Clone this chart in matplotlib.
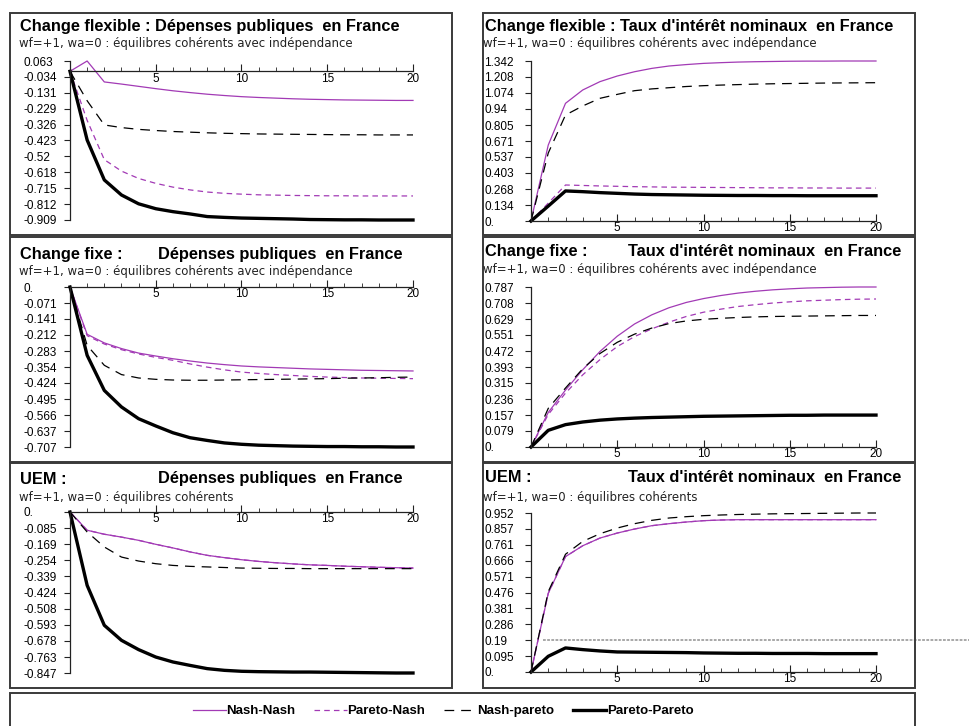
import matplotlib
matplotlib.use("Agg")
import matplotlib.pyplot as plt
from matplotlib.patches import Rectangle
from matplotlib.ticker import FixedLocator

plt.rcParams['font.family'] = ['Liberation Sans', 'DejaVu Sans']
plt.rcParams['lines.scale_dashes'] = False

# periodes
t = list(range(21))

# Change flexible : Depenses publiques
flex_dep_nn = [0, 0.063, -0.065, -0.078, -0.092, -0.106, -0.119, -0.130, -0.140, -0.148, -0.155,
               -0.160, -0.164, -0.168, -0.171, -0.173, -0.175, -0.176, -0.177, -0.178, -0.178]
flex_dep_pn = [0, -0.30, -0.54, -0.61, -0.655, -0.685, -0.708, -0.725, -0.738, -0.746, -0.751,
               -0.755, -0.757, -0.759, -0.760, -0.761, -0.761, -0.762, -0.762, -0.762, -0.762]
flex_dep_np = [0, -0.18, -0.328, -0.344, -0.355, -0.362, -0.368, -0.372, -0.376, -0.379, -0.381,
               -0.383, -0.384, -0.385, -0.386, -0.387, -0.388, -0.388, -0.389, -0.389, -0.389]
flex_dep_pp = [0, -0.42, -0.664, -0.756, -0.81, -0.84, -0.858, -0.872, -0.888, -0.893, -0.897,
               -0.899, -0.901, -0.903, -0.906, -0.907, -0.908, -0.908, -0.909, -0.909, -0.909]
flex_dep_ticks = ['0.063', '-0.034', '-0.131', '-0.229', '-0.326', '-0.423', '-0.52', '-0.618',
                  '-0.715', '-0.812', '-0.909']

# Change flexible : Taux d'interet nominaux
flex_taux_nn = [0, 0.637, 0.987, 1.099, 1.169, 1.216, 1.252, 1.280, 1.300, 1.312, 1.322,
                1.328, 1.333, 1.336, 1.338, 1.340, 1.341, 1.341, 1.342, 1.342, 1.342]
flex_taux_pn = [0, 0.15, 0.302, 0.298, 0.294, 0.291, 0.288, 0.286, 0.284, 0.283, 0.282,
                0.281, 0.280, 0.279, 0.278, 0.278, 0.277, 0.277, 0.276, 0.276, 0.276]
flex_taux_np = [0, 0.57, 0.889, 0.965, 1.029, 1.062, 1.093, 1.108, 1.118, 1.128, 1.135,
                1.140, 1.144, 1.148, 1.151, 1.153, 1.155, 1.157, 1.158, 1.159, 1.160]
flex_taux_pp = [0, 0.125, 0.252, 0.246, 0.238, 0.232, 0.226, 0.222, 0.220, 0.218, 0.216,
                0.215, 0.214, 0.214, 0.213, 0.213, 0.212, 0.212, 0.212, 0.212, 0.212]
flex_taux_ticks = ['1.342', '1.208', '1.074', '0.94', '0.805', '0.671', '0.537', '0.403',
                   '0.268', '0.134', '0.']

# Change fixe : Depenses publiques
fixe_dep_nn = [0, -0.209, -0.247, -0.272, -0.292, -0.305, -0.317, -0.327, -0.336, -0.343, -0.349,
               -0.353, -0.356, -0.359, -0.362, -0.364, -0.366, -0.368, -0.369, -0.370, -0.371]
fixe_dep_pn = [0, -0.215, -0.252, -0.277, -0.296, -0.311, -0.324, -0.340, -0.354, -0.366, -0.376,
               -0.382, -0.387, -0.391, -0.395, -0.398, -0.400, -0.402, -0.403, -0.404, -0.405]
fixe_dep_np = [0, -0.258, -0.346, -0.387, -0.402, -0.408, -0.411, -0.412, -0.412, -0.411, -0.410,
               -0.409, -0.408, -0.407, -0.406, -0.405, -0.403, -0.402, -0.401, -0.399, -0.398]
fixe_dep_pp = [0, -0.302, -0.457, -0.530, -0.582, -0.614, -0.644, -0.666, -0.678, -0.689, -0.695,
               -0.699, -0.701, -0.703, -0.704, -0.705, -0.705, -0.706, -0.706, -0.707, -0.707]
fixe_dep_ticks = ['0.', '-0.071', '-0.141', '-0.212', '-0.283', '-0.354', '-0.424', '-0.495',
                  '-0.566', '-0.637', '-0.707']

# Change fixe : Taux d'interet nominaux
fixe_taux_nn = [0, 0.17, 0.28, 0.38, 0.47, 0.545, 0.605, 0.65, 0.685, 0.711, 0.73,
                0.745, 0.757, 0.766, 0.773, 0.778, 0.782, 0.784, 0.786, 0.787, 0.787]
fixe_taux_pn = [0, 0.16, 0.265, 0.355, 0.43, 0.494, 0.543, 0.581, 0.614, 0.642, 0.663,
                0.678, 0.691, 0.700, 0.708, 0.714, 0.719, 0.722, 0.725, 0.727, 0.728]
fixe_taux_np = [0, 0.19, 0.29, 0.385, 0.46, 0.515, 0.555, 0.585, 0.607, 0.620, 0.628,
                0.633, 0.637, 0.640, 0.642, 0.643, 0.644, 0.645, 0.646, 0.647, 0.647]
fixe_taux_pp = [0, 0.082, 0.110, 0.123, 0.132, 0.138, 0.142, 0.145, 0.147, 0.149, 0.151,
                0.152, 0.153, 0.154, 0.155, 0.156, 0.156, 0.157, 0.157, 0.157, 0.157]
fixe_taux_ticks = ['0.787', '0.708', '0.629', '0.551', '0.472', '0.393', '0.315', '0.236',
                   '0.157', '0.079', '0.']

# UEM : Depenses publiques (Pareto-Nash confondu avec Nash-Nash)
uem_dep_nn = [0, -0.096, -0.117, -0.132, -0.149, -0.170, -0.189, -0.210, -0.228, -0.240, -0.251,
              -0.260, -0.267, -0.273, -0.278, -0.281, -0.285, -0.288, -0.291, -0.293, -0.295]
uem_dep_pn = uem_dep_nn
uem_dep_np = [0, -0.105, -0.184, -0.237, -0.258, -0.272, -0.281, -0.286, -0.289, -0.292, -0.295,
              -0.296, -0.297, -0.297, -0.298, -0.298, -0.298, -0.298, -0.298, -0.298, -0.298]
uem_dep_pp = [0, -0.386, -0.596, -0.675, -0.724, -0.763, -0.789, -0.807, -0.824, -0.833, -0.838,
              -0.840, -0.841, -0.842, -0.842, -0.843, -0.844, -0.845, -0.846, -0.847, -0.847]
uem_dep_ticks = ['0.', '-0.085', '-0.169', '-0.254', '-0.339', '-0.424', '-0.508', '-0.593',
                 '-0.678', '-0.763', '-0.847']

# UEM : Taux d'interet nominaux
uem_taux_nn = [0, 0.471, 0.691, 0.756, 0.802, 0.832, 0.856, 0.876, 0.888, 0.898, 0.906,
               0.910, 0.912, 0.912, 0.912, 0.912, 0.912, 0.912, 0.912, 0.912, 0.912]
uem_taux_pn = uem_taux_nn
uem_taux_np = [0, 0.481, 0.705, 0.782, 0.828, 0.862, 0.888, 0.908, 0.922, 0.930, 0.936,
               0.940, 0.943, 0.945, 0.947, 0.948, 0.949, 0.950, 0.951, 0.952, 0.952]
uem_taux_pp = [0, 0.094, 0.144, 0.134, 0.126, 0.120, 0.119, 0.118, 0.117, 0.116, 0.114,
               0.113, 0.112, 0.112, 0.111, 0.111, 0.111, 0.110, 0.110, 0.110, 0.110]
uem_taux_ticks = ['0.952', '0.857', '0.761', '0.666', '0.571', '0.476', '0.381', '0.286',
                  '0.19', '0.095', '0.']
# trait parasite en pointilles dans le dernier graphique
glitch_x = [0.7, 25.5]
glitch_y = [0.19, 0.19]

series_names = ['Nash-Nash', 'Pareto-Nash', 'Nash-pareto', 'Pareto-Pareto']
x_labels = ['5', '10', '15', '20']

sub_indep = 'wf=+1, wa=0 : équilibres cohérents avec indépendance'
sub_uem = 'wf=+1, wa=0 : équilibres cohérents'

W, H = 970, 726
fig = plt.figure(figsize=(W / 100, H / 100), dpi=100)
purple = '#a23ab5'
title_kw = dict(fontsize=11.8, fontweight='bold', va='center')


def fx(x):
    return x / W


def fy(y):
    return 1 - y / H


def box(x0, y0, x1, y1, lw=1.4):
    fig.patches.append(Rectangle((fx(x0), fy(y1)), fx(x1) - fx(x0), fy(y0) - fy(y1),
                                 transform=fig.transFigure, fill=False,
                                 ec='#3a3a3a', lw=lw))


def panel(bx, axpx, titles, subtitle, tpos, ticks, nn, pn, nps, pp):
    box(*bx)
    (tx0, tx1, ty), (sx, sy) = tpos
    fig.text(fx(tx0), fy(ty), titles[0], **title_kw)
    if titles[1] is not None:
        fig.text(fx(tx1), fy(ty), titles[1], ha='right', **title_kw)
    fig.text(fx(sx), fy(sy), subtitle, fontsize=8.5, va='center', color='#222222',
             family='DejaVu Sans')

    l, top, r, bot = axpx
    ax = fig.add_axes([fx(l), fy(bot), fx(r) - fx(l), fy(top) - fy(bot)])
    vals = [float(s) for s in ticks]
    ax.set_xlim(0, 20)
    ax.set_ylim(min(vals), max(vals))
    ax.patch.set_alpha(0)
    for sp in ['top', 'right']:
        ax.spines[sp].set_visible(False)
    ax.spines['left'].set_position(('data', 0))
    ax.spines['bottom'].set_position(('data', 0))
    for sp in ['left', 'bottom']:
        ax.spines[sp].set_linewidth(0.9)
        ax.spines[sp].set_color('#222222')
    ax.set_yticks(vals)
    ax.set_yticklabels(ticks)
    ax.set_xticks([5, 10, 15, 20])
    ax.set_xticklabels(x_labels)
    ax.xaxis.set_minor_locator(FixedLocator([i for i in t if i % 5 != 0]))
    ax.tick_params(axis='x', which='both', direction='in', pad=1, labelsize=8.5, color='#222222')
    ax.tick_params(axis='x', which='major', length=5)
    ax.tick_params(axis='x', which='minor', length=3)
    ax.tick_params(axis='y', direction='out', length=4, pad=29.5, labelsize=8.5, color='#222222')
    for lb in ax.get_yticklabels():
        lb.set_horizontalalignment('left')

    h1, = ax.plot(t, nn, color=purple, lw=0.9, clip_on=False)
    h2, = ax.plot(t, pn, color=purple, lw=0.9, dashes=(4, 3), clip_on=False)
    h3, = ax.plot(t, nps, color='black', lw=0.9, dashes=(7, 5), clip_on=False)
    h4, = ax.plot(t, pp, color='black', lw=2.4, clip_on=False)
    return ax, [h1, h2, h3, h4]


axL = [70, 61, 413, 220]
axR = [531, 61, 876, 221]
ax1, handles = panel((10, 13, 452, 235), axL,
                     ('Change flexible : Dépenses publiques  en France', None), sub_indep,
                     ((20, 402, 26), (19, 44)), flex_dep_ticks,
                     flex_dep_nn, flex_dep_pn, flex_dep_np, flex_dep_pp)
panel((483, 13, 915, 235), axR,
      ("Change flexible : Taux d'intérêt nominaux  en France", None), sub_indep,
      ((485, 901, 26), (483, 44)), flex_taux_ticks,
      flex_taux_nn, flex_taux_pn, flex_taux_np, flex_taux_pp)

panel((10, 237, 452, 462), [70, 287, 413, 447],
      ('Change fixe :', 'Dépenses publiques  en France'), sub_indep,
      ((20, 402, 254), (19, 271)), fixe_dep_ticks,
      fixe_dep_nn, fixe_dep_pn, fixe_dep_np, fixe_dep_pp)
panel((483, 237, 915, 462), [531, 287, 876, 447],
      ('Change fixe :', "Taux d'intérêt nominaux  en France"), sub_indep,
      ((485, 901, 252), (483, 270)), fixe_taux_ticks,
      fixe_taux_nn, fixe_taux_pn, fixe_taux_np, fixe_taux_pp)

panel((10, 463, 452, 688), [70, 512, 413, 673],
      ('UEM :', 'Dépenses publiques  en France'), sub_uem,
      ((20, 402, 479), (19, 497)), uem_dep_ticks,
      uem_dep_nn, uem_dep_pn, uem_dep_np, uem_dep_pp)
ax6, _ = panel((483, 463, 915, 688), [531, 513, 876, 672],
               ('UEM :', "Taux d'intérêt nominaux  en France"), sub_uem,
               ((485, 901, 478), (483, 497)), uem_taux_ticks,
               uem_taux_nn, uem_taux_pn, uem_taux_np, uem_taux_pp)
ax6.plot(glitch_x, glitch_y, color='#9a9a9a', lw=1.2, ls=(0, (2, 1)), clip_on=False)

# legende
box(10, 693, 915, 728)
fig.legend(handles, series_names, loc='center', bbox_to_anchor=(fx(443), fy(711)), ncol=4,
           frameon=False, handlelength=2.5, handletextpad=0.05, columnspacing=1.4,
           prop={'family': ['Liberation Sans Narrow', 'Liberation Sans'], 'size': 9.5,
                 'weight': 'bold'})

fig.savefig('out.png', dpi=100)
